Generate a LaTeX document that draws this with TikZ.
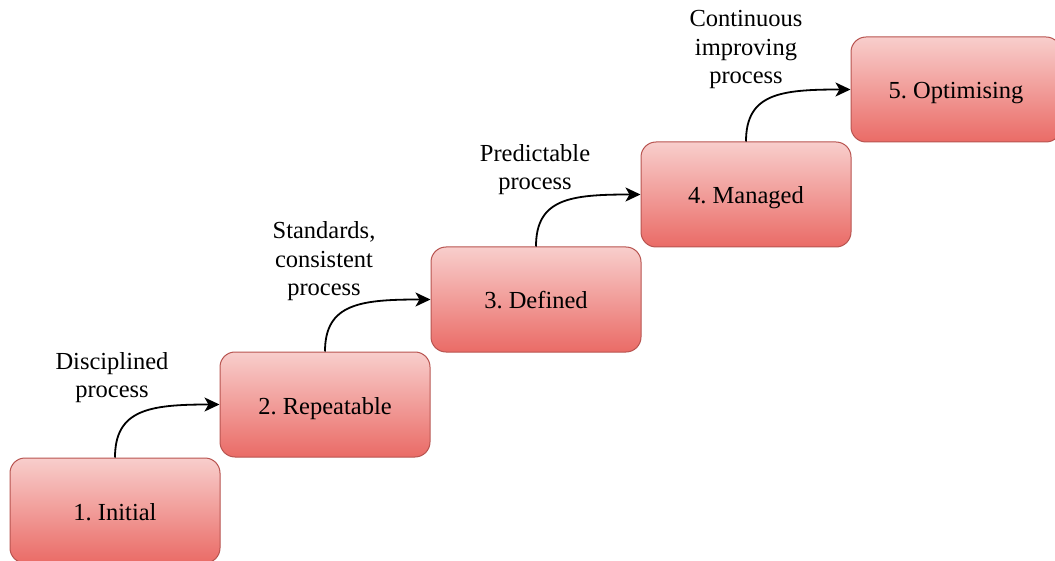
\documentclass[tikz,border=0pt]{standalone}
\usepackage{fontspec}
\setmainfont{Liberation Serif}
\frenchspacing
\usetikzlibrary{arrows.meta}
\definecolor{fillTop}{HTML}{F8CECC}
\definecolor{fillBot}{HTML}{EA6B66}
\definecolor{strokeRed}{HTML}{B85450}
\begin{document}
\begin{tikzpicture}[x=1pt,y=-1pt,
  stage/.style={rectangle, rounded corners=15pt, draw=strokeRed, line width=1pt,
    top color=fillTop, bottom color=fillBot, minimum width=210pt, minimum height=105pt,
    inner sep=0pt, text height=21pt, text depth=2pt, font=\fontsize{24.5}{28.5}\selectfont},
  lbl/.style={align=center, inner sep=0pt, font=\fontsize{24.5}{28.5}\selectfont},
  link/.style={draw=black, line width=1.8pt, -{Stealth[length=15pt,width=14pt,inset=4pt]}}]
\useasboundingbox (0,0) rectangle (1055,561);
\node[stage] (s1) at (115,510.5) {1. Initial};
\node[stage] (s2) at (325,404.5) {2. Repeatable};
\node[stage] (s3) at (536,299.5) {3. Defined};
\node[stage] (s4) at (746,194.5) {4. Managed};
\node[stage] (s5) at (956,89.5) {5. Optimising};
\draw[link] (s1.north) .. controls +(0,-48) and +(-70,0) .. (s2.west);
\draw[link] (s2.north) .. controls +(0,-48) and +(-70,0) .. (s3.west);
\draw[link] (s3.north) .. controls +(0,-48) and +(-70,0) .. (s4.west);
\draw[link] (s4.north) .. controls +(0,-48) and +(-70,0) .. (s5.west);
\node[lbl] (t1) at (112,377.5) {Disciplined\\process};
\node[lbl] (t2) at (324,261.5) {Standards,\\consistent\\process};
\node[lbl] (t3) at (535,169.5) {Predictable\\process};
\node[lbl] (t4) at (746,50) {Continuous\\improving\\process};
\end{tikzpicture}
\end{document}
